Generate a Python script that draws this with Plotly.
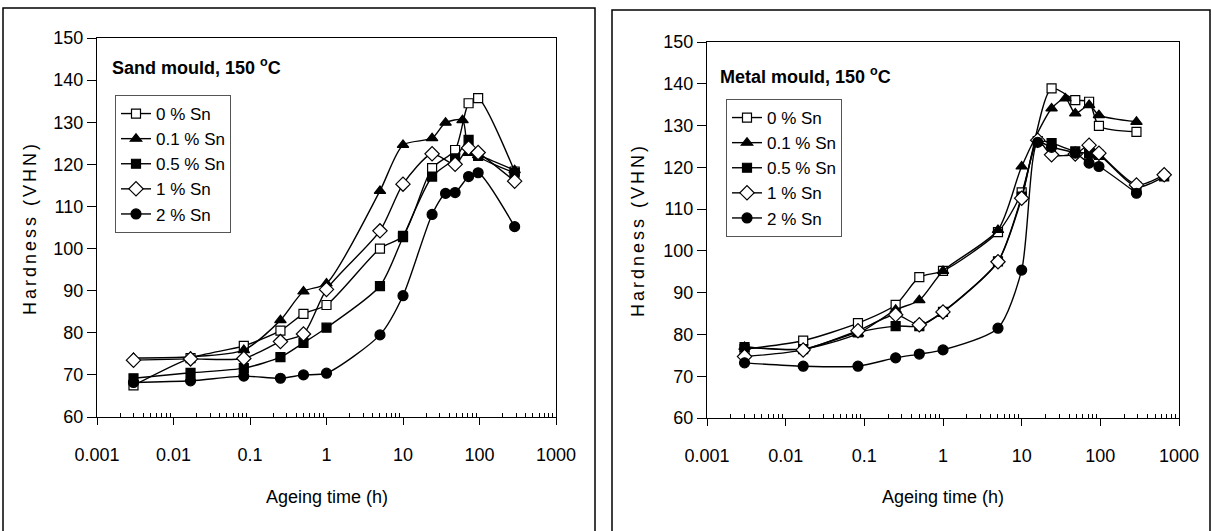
import plotly.graph_objects as go

# ---------------- data ----------------
series_names = ["0 % Sn", "0.1 % Sn", "0.5 % Sn", "1 % Sn", "2 % Sn"]

# Sand mould, 150 °C
sand_t_0 = [0.003, 0.0167, 0.083, 0.25, 0.5, 1, 5, 10, 24, 48, 72, 96, 288]
sand_v_0 = [67.5, 74.0, 76.9, 80.5, 84.5, 86.6, 100.0, 103.0, 119.1, 123.4, 134.5, 135.7, 118.3]
sand_t_01 = [0.003, 0.0167, 0.083, 0.25, 0.5, 1, 5, 10, 24, 36, 60, 72, 96, 288]
sand_v_01 = [74.0, 74.3, 75.9, 83.0, 89.8, 91.7, 113.7, 124.6, 126.2, 129.9, 130.5, 122.7, 122.2, 118.6]
sand_t_05 = [0.003, 0.0167, 0.083, 0.25, 0.5, 1, 5, 10, 24, 48, 72, 96, 288]
sand_v_05 = [69.2, 70.5, 71.6, 74.2, 77.6, 81.2, 91.1, 102.7, 117.1, 121.4, 125.8, 122.0, 118.0]
sand_t_1 = [0.003, 0.0167, 0.083, 0.25, 0.5, 1, 5, 10, 24, 48, 72, 96, 288]
sand_v_1 = [73.5, 73.8, 73.9, 77.9, 79.7, 90.3, 104.2, 115.3, 122.5, 120.0, 123.9, 122.8, 116.0]
sand_t_2 = [0.003, 0.0167, 0.083, 0.25, 0.5, 1, 5, 10, 24, 36, 48, 72, 96, 288]
sand_v_2 = [68.2, 68.6, 69.7, 69.2, 70.0, 70.4, 79.5, 88.8, 108.1, 113.1, 113.3, 117.1, 118.0, 105.2]

# Metal mould, 150 °C
metal_t_0 = [0.003, 0.0167, 0.083, 0.25, 0.5, 1, 5, 10, 24, 48, 72, 96, 288]
metal_v_0 = [76.5, 78.5, 82.7, 87.1, 93.7, 95.2, 104.5, 114.0, 138.9, 136.1, 135.7, 129.9, 128.5]
metal_t_01 = [0.003, 0.0167, 0.083, 0.25, 0.5, 1, 5, 10, 24, 36, 48, 72, 96, 288]
metal_v_01 = [77.0, 76.5, 80.2, 85.9, 88.2, 95.2, 105.0, 120.2, 134.1, 136.5, 132.9, 134.9, 132.5, 130.9]
metal_t_05 = [0.003, 0.0167, 0.083, 0.25, 0.5, 1, 5, 10, 16, 24, 48, 72, 96, 288, 648]
metal_v_05 = [77.0, 76.5, 80.5, 82.0, 82.0, 85.4, 97.5, 113.0, 126.3, 125.8, 123.8, 123.3, 123.0, 115.3, 117.8]
metal_t_1 = [0.003, 0.0167, 0.083, 0.25, 0.5, 1, 5, 10, 16, 24, 48, 72, 96, 288, 648]
metal_v_1 = [74.7, 76.3, 80.9, 84.7, 82.3, 85.4, 97.4, 112.6, 126.5, 123.0, 123.2, 125.3, 123.4, 115.8, 118.2]
metal_t_2 = [0.003, 0.0167, 0.083, 0.25, 0.5, 1, 5, 10, 16, 24, 48, 72, 96, 288]
metal_v_2 = [73.2, 72.4, 72.4, 74.4, 75.3, 76.3, 81.5, 95.4, 126.0, 124.8, 123.4, 121.0, 120.2, 113.8]

x_tick_vals = [0.001, 0.01, 0.1, 1, 10, 100, 1000]
x_tick_text = ["0.001", "0.01", "0.1", "1", "10", "100", "1000"]
y_tick_vals = [60, 70, 80, 90, 100, 110, 120, 130, 140, 150]

left_title = "Sand mould, 150 <sup>o</sup>C"
right_title = "Metal mould, 150 <sup>o</sup>C"
x_title = "Ageing time (h)"
y_title = "Hardness (VHN)"

# ---------------- styling ----------------
FONT = "Liberation Sans, Arial, sans-serif"
styles = [
    dict(symbol="square", size=9, color="white"),
    dict(symbol="triangle-up", size=10, color="black"),
    dict(symbol="square", size=9, color="black"),
    dict(symbol="diamond", size=11, color="white"),
    dict(symbol="circle", size=10, color="black"),
]

sand = [(sand_t_0, sand_v_0), (sand_t_01, sand_v_01), (sand_t_05, sand_v_05),
        (sand_t_1, sand_v_1), (sand_t_2, sand_v_2)]
metal = [(metal_t_0, metal_v_0), (metal_t_01, metal_v_01), (metal_t_05, metal_v_05),
         (metal_t_1, metal_v_1), (metal_t_2, metal_v_2)]

fig = go.Figure()


def add_series(data, xa, ya, legend):
    for name, (t, v), st in zip(series_names, data, styles):
        fig.add_trace(go.Scatter(
            x=t, y=v, name=name, mode="lines+markers",
            xaxis=xa, yaxis=ya, legend=legend,
            line=dict(color="black", width=1.4, shape="spline", smoothing=0.7),
            marker=dict(symbol=st["symbol"], size=st["size"], color=st["color"],
                        line=dict(color="black", width=1.2)),
        ))


add_series(sand, "x", "y", "legend")
add_series(metal, "x2", "y2", "legend2")

W, H = 1212, 531
def px(x):
    return x / W
def py(y):
    return 1 - y / H

minor_vals = []
for d in [0.001, 0.01, 0.1, 1, 10, 100]:
    for k in range(2, 10):
        minor_vals.append(d * k)

xaxis_common = dict(
    type="log", range=[-3, 3], tickmode="array", tickvals=x_tick_vals, ticktext=x_tick_text,
    showline=True, linecolor="black", linewidth=1.2, mirror=True,
    ticks="outside", ticklen=7, tickwidth=1, tickcolor="black",
    minor=dict(tickmode="array", tickvals=minor_vals, ticks="inside", ticklen=4,
               tickcolor="black", showgrid=False),
    showgrid=False, zeroline=False, automargin=False,
    tickfont=dict(family=FONT, size=18, color="black"),
    ticklabelstandoff=14,
)
yaxis_common = dict(
    range=[60, 150], tickmode="array", tickvals=y_tick_vals,
    showline=True, linecolor="black", linewidth=1.2, mirror=True,
    ticks="outside", ticklen=9, tickwidth=1, tickcolor="black",
    showgrid=False, zeroline=False, automargin=False,
    tickfont=dict(family=FONT, size=18, color="black"),
)

y_title_html = '<span style="letter-spacing:3px">' + y_title + '</span>'

fig.update_layout(
    width=W, height=H, autosize=False,
    margin=dict(l=0, r=0, t=0, b=0, pad=0),
    paper_bgcolor="white", plot_bgcolor="white",
    showlegend=True,
    xaxis=dict(domain=[px(97), px(556)], anchor="y", **xaxis_common),
    yaxis=dict(domain=[py(417), py(38)], anchor="x", **yaxis_common),
    xaxis2=dict(domain=[px(707), px(1179)], anchor="y2", **xaxis_common),
    yaxis2=dict(domain=[py(418), py(42)], anchor="x2", **yaxis_common),
    legend=dict(x=px(115), y=py(95), xanchor="left", yanchor="top",
                bgcolor="white", bordercolor="#555555", borderwidth=1,
                font=dict(family=FONT, size=17, color="black"), itemwidth=30),
    legend2=dict(x=px(726), y=py(99), xanchor="left", yanchor="top",
                 bgcolor="white", bordercolor="#555555", borderwidth=1,
                 font=dict(family=FONT, size=17, color="black"), itemwidth=30),
    shapes=[
        dict(type="rect", xref="paper", yref="paper", x0=px(3), x1=px(595),
             y0=py(540), y1=py(8), line=dict(color="black", width=1.5), layer="below"),
        dict(type="rect", xref="paper", yref="paper", x0=px(612), x1=px(1210),
             y0=py(540), y1=py(10), line=dict(color="black", width=1.5), layer="below"),
    ],
    annotations=[
        dict(text="<b>" + left_title + "</b>", xref="paper", yref="paper",
             x=px(110), y=py(67), xanchor="left", yanchor="middle", showarrow=False,
             font=dict(family=FONT, size=18, color="black")),
        dict(text="<b>" + right_title + "</b>", xref="paper", yref="paper",
             x=px(718), y=py(76), xanchor="left", yanchor="middle", showarrow=False,
             font=dict(family=FONT, size=18, color="black")),
        dict(text=x_title, xref="paper", yref="paper", x=px(327), y=py(497),
             xanchor="center", yanchor="middle", showarrow=False,
             font=dict(family=FONT, size=18, color="black")),
        dict(text=x_title, xref="paper", yref="paper", x=px(943), y=py(497),
             xanchor="center", yanchor="middle", showarrow=False,
             font=dict(family=FONT, size=18, color="black")),
        dict(text=y_title_html, xref="paper", yref="paper", x=px(30), y=py(228),
             xanchor="center", yanchor="middle", showarrow=False, textangle=-90,
             font=dict(family=FONT, size=18, color="black")),
        dict(text=y_title_html, xref="paper", yref="paper", x=px(638), y=py(230),
             xanchor="center", yanchor="middle", showarrow=False, textangle=-90,
             font=dict(family=FONT, size=18, color="black")),
    ],
)

fig.write_html(
    "out.html",
    config={"displayModeBar": False},
    post_script="document.body.style.margin='0px';document.body.style.overflow='hidden';",
)
